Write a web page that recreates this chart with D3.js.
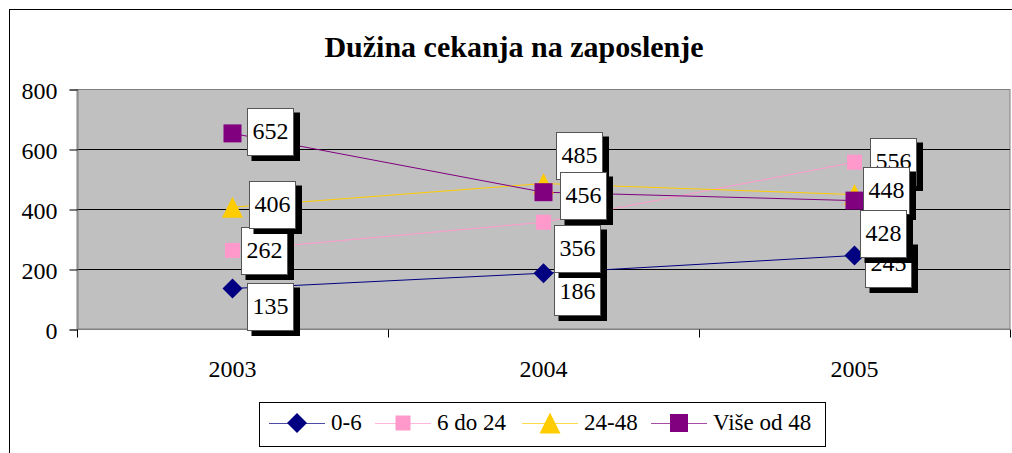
<!DOCTYPE html>
<html><head><meta charset="utf-8">
<script src="https://cdn.jsdelivr.net/npm/d3@7"></script>
<style>body{margin:0;background:#fff}svg{display:block}</style>
</head><body>
<svg id="c" width="1012" height="453"></svg>
<script>
const title = "Dužina cekanja na zaposlenje";
const categories = ["2003", "2004", "2005"];
const seriesNames = ["0-6", "6 do 24", "24-48", "Više od 48"];
const values06 = [135, 186, 245];
const values6to24 = [262, 356, 556];
const values24to48 = [406, 485, 448];
const valuesOver48 = [652, 456, 428];
const yTicks = [0, 200, 400, 600, 800];
// label box nudges (layout only): [dx, dy] of box centre from its point
const labelNudge = [
  [[37, 17.5], [33, 18], [33, 8]],
  [[31, 0], [33, 26], [38.5, -1]],
  [[39, -2.5], [35, -28.5], [31, -4.5]],
  [[37, -2.4], [39, 3], [28.5, 32.5]]
];
const colors = ["#000080", "#FF99CC", "#FFCC00", "#800080"];
const allValues = [values06, values6to24, values24to48, valuesOver48];
const FONT = "'Liberation Serif', 'Times New Roman', 'DejaVu Serif', serif";

const svg = d3.select("#c");
const L = 77, R = 1010, T = 89, B = 329;
const x = d3.scaleBand().domain(categories).range([L, R]).padding(0);
const y = d3.scaleLinear().domain([0, 800]).range([B, T]);
const cx = c => x(c) + x.bandwidth() / 2;
const txt = sel => sel.style("font-family", FONT).attr("fill", "#000");

// outer frame
svg.append("rect").attr("x", 9.5).attr("y", 9.5).attr("width", 1010).attr("height", 460)
  .attr("fill", "#fff").attr("stroke", "#000").attr("stroke-width", 1);

// title
svg.append("text").attr("x", 514).attr("y", 57).attr("text-anchor", "middle")
  .style("font-size", "30px").style("font-weight", "bold").call(txt).text(title);

// plot area
svg.append("rect").attr("x", L).attr("y", T + 0.5).attr("width", R - L).attr("height", B - T - 0.5)
  .attr("fill", "#C0C0C0").attr("stroke", "#808080").attr("stroke-width", 1);

// gridlines
svg.append("g").selectAll("line").data(yTicks.filter(t => t > 0 && t < 800)).join("line")
  .attr("x1", L).attr("x2", R).attr("y1", d => Math.round(y(d)) + 0.5).attr("y2", d => Math.round(y(d)) + 0.5)
  .attr("stroke", "#000").attr("stroke-width", 1);

// y axis
const yAxis = d3.axisLeft(y).tickValues(yTicks).tickSize(8).tickPadding(12).tickFormat(d3.format("d"));
const gy = svg.append("g").attr("transform", `translate(${L + 0.5},0.5)`).call(yAxis);
gy.attr("font-family", null).attr("font-size", null);
gy.select(".domain").attr("stroke", "#808080");
gy.selectAll(".tick line").attr("stroke", "#000");
gy.selectAll(".tick text").style("font-size", "24px").call(txt).attr("dy", "0.38em");

// x axis with boundary ticks
const gx = svg.append("g").attr("transform", `translate(0,${B + 0.5})`);
gx.append("line").attr("x1", L).attr("x2", R).attr("stroke", "#808080");
const bounds = categories.map(c => x(c)).concat([R]);
gx.selectAll(".bt").data(bounds).join("line").attr("class", "bt")
  .attr("x1", d => Math.round(d) + 0.5).attr("x2", d => Math.round(d) + 0.5).attr("y1", 0).attr("y2", 8)
  .attr("stroke", "#000");
gx.selectAll("text").data(categories).join("text")
  .attr("x", d => cx(d)).attr("y", 47).attr("text-anchor", "middle").style("font-size", "24px").call(txt).text(d => d);

// markers
function marker(g, i) {
  if (i === 0) {
    g.append("path").attr("d", d3.symbol(d3.symbolSquare, 200)()).attr("transform", "rotate(45)").attr("fill", colors[i]);
  } else if (i === 2) {
    g.append("path").attr("d", "M0,-10.5L10.5,10.5L-10.5,10.5Z").attr("fill", colors[i]);
  } else {
    const s = i === 1 ? 15 : 18;
    g.append("rect").attr("x", -s / 2).attr("y", -s / 2).attr("width", s).attr("height", s).attr("fill", colors[i]);
  }
}

// lines
const line = d3.line().x((d, j) => cx(categories[j])).y(d => y(d));
allValues.forEach((vals, i) => {
  svg.append("path").datum(vals).attr("d", line).attr("fill", "none").attr("stroke", colors[i]).attr("stroke-width", 1);
});
allValues.forEach((vals, i) => {
  vals.forEach((v, j) => {
    const g = svg.append("g").attr("transform", `translate(${cx(categories[j])},${y(v)})`);
    marker(g, i);
  });
});

// data labels
const bw = 46, bh = 47;
allValues.forEach((vals, i) => {
  vals.forEach((v, j) => {
    const [dx, dy] = labelNudge[i][j];
    const mx = cx(categories[j]) + dx, my = y(v) + dy;
    const bx = Math.round(mx - bw / 2) + 0.5, by = Math.round(my - bh / 2) + 0.5;
    svg.append("rect").attr("x", bx + 4).attr("y", by + 4).attr("width", bw + 2.5).attr("height", bh + 1.5).attr("fill", "#000");
    svg.append("rect").attr("x", bx).attr("y", by).attr("width", bw).attr("height", bh)
      .attr("fill", "#fff").attr("stroke", "#555").attr("stroke-width", 1);
    svg.append("text").attr("x", bx + bw / 2).attr("y", by + bh / 2 + 7).attr("text-anchor", "middle")
      .style("font-size", "24px").call(txt).text(v);
  });
});

// legend
const lg = svg.append("g");
lg.append("rect").attr("x", 259.5).attr("y", 402.5).attr("width", 566).attr("height", 44)
  .attr("fill", "#fff").attr("stroke", "#000").attr("stroke-width", 1);
const legendX = [269, 375, 522, 651];
seriesNames.forEach((n, i) => {
  const x0 = legendX[i], ly = 423;
  lg.append("line").attr("x1", x0).attr("x2", x0 + 56).attr("y1", ly + 0.5).attr("y2", ly + 0.5)
    .attr("stroke", colors[i]).attr("stroke-width", 1).attr("stroke-opacity", 0.7);
  const g = lg.append("g").attr("transform", `translate(${x0 + 28},${ly})`);
  marker(g, i);
  lg.append("text").attr("x", x0 + 62).attr("y", 430).style("font-size", "23px").call(txt).text(n);
});
</script>
</body></html>
